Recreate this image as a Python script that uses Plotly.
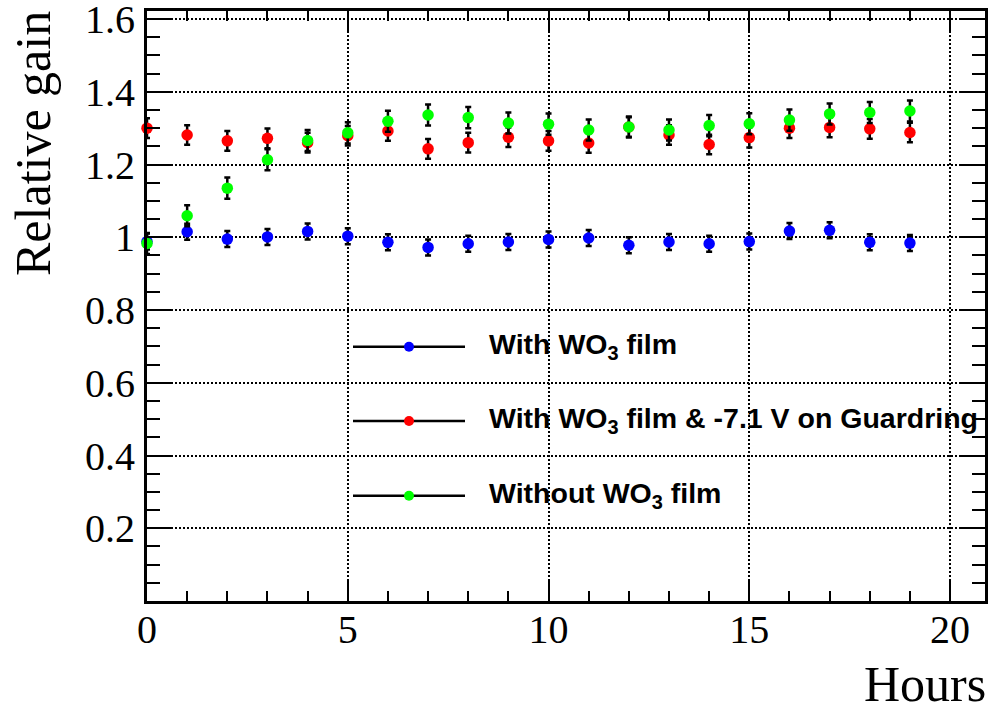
import plotly.graph_objects as go

# ---------------- data ----------------
hours = list(range(20))
gain_with_wo3 = [0.988, 1.015, 0.995, 1.001, 1.016, 1.003, 0.986, 0.972, 0.982, 0.987,
                 0.994, 0.998, 0.978, 0.987, 0.982, 0.988, 1.017, 1.019, 0.986, 0.984]
gain_with_wo3_guard = [1.300, 1.281, 1.265, 1.272, 1.260, 1.279, 1.292, 1.243, 1.260, 1.275,
                       1.265, 1.259, 1.303, 1.281, 1.255, 1.274, 1.300, 1.302, 1.298, 1.288]
gain_without_wo3 = [0.983, 1.059, 1.135, 1.213, 1.266, 1.287, 1.319, 1.336, 1.329, 1.314,
                    1.311, 1.295, 1.303, 1.295, 1.307, 1.312, 1.322, 1.339, 1.343, 1.347]
err_with_wo3 = [0.022] * 20
err_with_wo3_guard = [0.027] * 20
err_without_wo3 = [0.029] * 20

series_names = ["With WO<sub>3</sub> film",
                "With WO<sub>3</sub> film & -7.1 V on Guardring",
                "Without WO<sub>3</sub> film"]
series_colors = ["#0000ff", "#ff0000", "#00ff00"]

y_tickvals = [0.2, 0.4, 0.6, 0.8, 1.0, 1.2, 1.4, 1.6]
y_ticktext = ["0.2", "0.4", "0.6", "0.8", "1", "1.2", "1.4", "1.6"]
x_tickvals = [0, 5, 10, 15, 20]

# ---------------- figure ----------------
fig = go.Figure()
for ys, es, name, col in [
    (gain_with_wo3, err_with_wo3, series_names[0], series_colors[0]),
    (gain_with_wo3_guard, err_with_wo3_guard, series_names[1], series_colors[1]),
    (gain_without_wo3, err_without_wo3, series_names[2], series_colors[2]),
]:
    fig.add_trace(go.Scatter(
        x=hours, y=ys, mode="markers", name=name, showlegend=False,
        marker=dict(color=col, size=11.5, line=dict(width=0)),
        error_y=dict(type="data", array=es, visible=True, color="black",
                     thickness=2.5, width=3),
        cliponaxis=False,
    ))

W, H = 992, 705
ml, mr, mt, mb = 147, 7, 11, 104
pw, ph = W - ml - mr, H - mt - mb

def px_x(px):
    return (px - ml) / pw

def px_y(py):
    return (H - mb - py) / ph

# manual legend (ROOT-style, transparent, long line + marker)
legend_rows_py = [346.7, 421.0, 495.7]
shapes = []
annotations = []
for name, col, py in zip(series_names, series_colors, legend_rows_py):
    shapes.append(dict(type="line", xref="paper", yref="paper",
                       x0=px_x(353), x1=px_x(465), y0=px_y(py), y1=px_y(py),
                       line=dict(color="black", width=2.5)))
    shapes.append(dict(type="circle", xref="paper", yref="paper",
                       xsizemode="pixel", ysizemode="pixel",
                       xanchor=px_x(409), yanchor=px_y(py),
                       x0=-5, x1=5, y0=-5, y1=5,
                       fillcolor=col, line=dict(width=0)))
    annotations.append(dict(xref="paper", yref="paper", x=px_x(487), y=px_y(py - 1),
                            xanchor="left", yanchor="middle", showarrow=False,
                            text="<b>" + name + "</b>",
                            font=dict(family="Liberation Sans, Arial", size=28.5, color="black")))

# axis titles (ROOT style, aligned to the end of the axis)
annotations.append(dict(xref="paper", yref="paper", x=px_x(988), y=px_y(684),
                        xanchor="right", yanchor="middle", showarrow=False,
                        text="Hours",
                        font=dict(family="Liberation Serif, Times New Roman", size=50, color="black")))
annotations.append(dict(xref="paper", yref="paper", x=px_x(33), y=px_y(144),
                        xanchor="center", yanchor="middle", showarrow=False, textangle=-90,
                        text="Relative gain",
                        font=dict(family="Liberation Serif, Times New Roman", size=50, color="black")))

tickfont = dict(family="Liberation Serif, Times New Roman", size=40, color="black")

fig.update_layout(
    width=W, height=H,
    margin=dict(l=ml, r=mr, t=mt, b=mb, pad=0, autoexpand=False),
    paper_bgcolor="white", plot_bgcolor="white",
    showlegend=False,
    shapes=shapes, annotations=annotations,
    xaxis=dict(
        range=[0, 20.87], tickmode="array", tickvals=x_tickvals,
        ticks="inside", ticklen=20, tickwidth=2, tickcolor="black",
        showline=True, linewidth=3, linecolor="black", mirror="ticks",
        showgrid=True, gridcolor="black", gridwidth=2, griddash="2px,2px",
        zeroline=False, tickfont=tickfont, ticklabelstandoff=-9,
        ticklabeloverflow="allow", automargin=False,
        minor=dict(tickmode="linear", tick0=0, dtick=1, ticks="inside",
                   ticklen=10, tickwidth=2, tickcolor="black", showgrid=False),
    ),
    yaxis=dict(
        range=[0, 1.622], tickmode="array", tickvals=y_tickvals, ticktext=y_ticktext,
        ticks="inside", ticklen=25, tickwidth=2, tickcolor="black",
        showline=True, linewidth=3, linecolor="black", mirror="ticks",
        showgrid=True, gridcolor="black", gridwidth=2, griddash="2px,2px",
        zeroline=False, tickfont=tickfont, ticklabelstandoff=1,
        ticklabeloverflow="allow", automargin=False,
        minor=dict(tickmode="linear", tick0=0, dtick=0.05, ticks="inside",
                   ticklen=13, tickwidth=2, tickcolor="black", showgrid=False),
    ),
)

fig.write_html("out.html",
               config={"displayModeBar": False},
               post_script="document.body.style.margin='0';document.body.style.overflow='hidden';")
